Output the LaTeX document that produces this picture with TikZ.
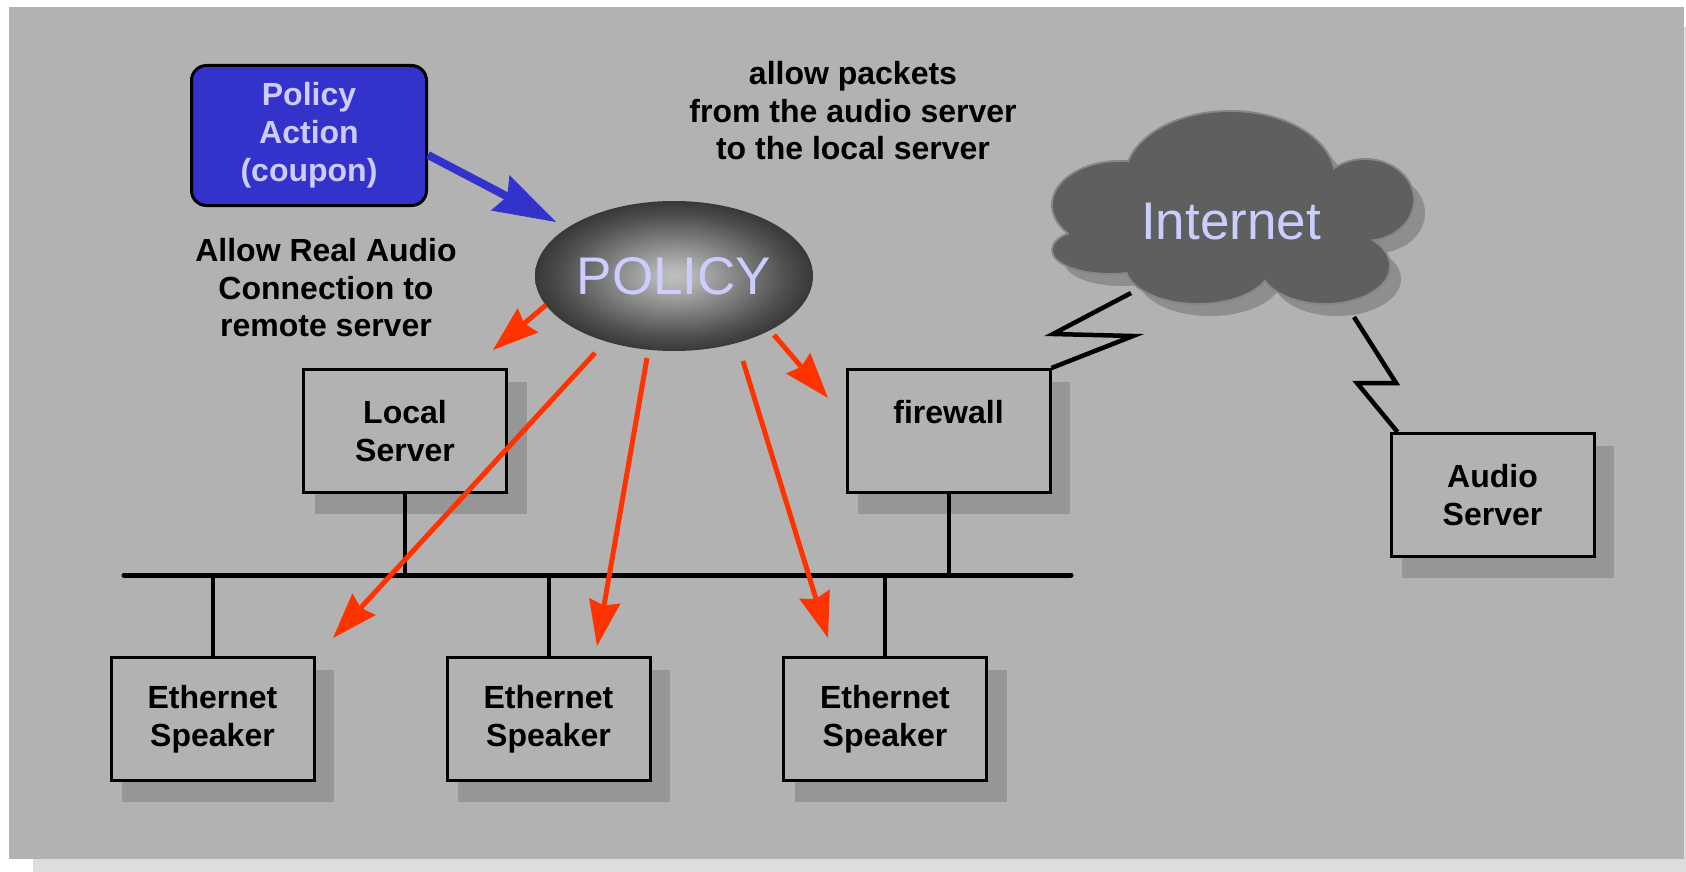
\documentclass[tikz,border=0pt]{standalone}
\usepackage{fontspec}
\setmainfont{Liberation Sans}
\usetikzlibrary{arrows.meta,shapes.geometric,calc}

\pgfdeclarelayer{paper}
\pgfdeclarelayer{shadowlayer}
\pgfsetlayers{paper,shadowlayer,main}

\definecolor{pagegray}{HTML}{B2B2B2}
\definecolor{pageshadow}{HTML}{DDDDDD}
\definecolor{boxshadow}{HTML}{969696}
\definecolor{actionblue}{HTML}{3333CC}
\definecolor{lavender}{HTML}{CCCCFF}
\definecolor{signalred}{HTML}{FF3300}
\definecolor{cloudfill}{HTML}{5F5F5F}
\definecolor{cloudedge}{HTML}{868686}
\definecolor{cloudshadow}{HTML}{8E8E8E}
\definecolor{glowA}{HTML}{BEBEBE}
\definecolor{glowB}{HTML}{B6B6B6}
\definecolor{glowC}{HTML}{808080}
\definecolor{glowD}{HTML}{505050}
\definecolor{glowE}{HTML}{383838}

% radial glow of the policy ellipse (the inner 50bp square covers the ellipse)
\pgfdeclareradialshading{policyglow}{\pgfpoint{0bp}{0bp}}{%
  color(0bp)=(glowA); color(3bp)=(glowB); color(12bp)=(glowC);
  color(20bp)=(glowD); color(25bp)=(glowE); color(50bp)=(glowE)}

\newcommand{\diaglabel}{\fontsize{32}{38}\selectfont\bfseries}
\newcommand{\diagnote}{\fontsize{32}{37.5}\selectfont\bfseries}
\newcommand{\diagbig}{\fontsize{53}{60}\selectfont}

% lobes of the Internet cloud: x/y/x radius/y radius
\newcommand{\lobelist}{1230/178/104/66, 1120/205/67/43, 1110/250/57/23,
  1198/265/72/38, 1325/266/64/37, 1365/200/48/40, 1230/225/110/50}

\begin{document}
\begin{tikzpicture}[x=1pt,y=-1pt,
  unitbox/.style={draw=black, line width=3pt, fill=pagegray,
    minimum width=203pt, minimum height=123pt, inner sep=0pt,
    align=center, font=\diaglabel},
  actionbox/.style={draw=black, line width=3pt, fill=actionblue,
    rounded corners=15pt, text=lavender, font=\diaglabel, align=center,
    minimum width=235pt, minimum height=140pt, inner sep=0pt},
  policyball/.style={ellipse, minimum width=278pt, minimum height=150pt,
    inner sep=0pt, shade, shading=policyglow, text=lavender, font=\diagbig},
  note/.style={align=center, inner sep=0pt, font=\diagnote},
  cloudtext/.style={inner sep=0pt, text=lavender, font=\diagbig},
  redarrow/.style={draw=signalred, line width=5pt,
    -{Stealth[length=46pt, width=32pt, inset=5pt, line width=0pt]}},
  bluearrow/.style={draw=actionblue, line width=8pt,
    -{Stealth[length=63pt, width=40pt, inset=8pt, line width=0pt]}},
  bus/.style={draw=black, line width=5pt, line cap=round},
  drop/.style={draw=black, line width=4pt},
  zig/.style={draw=black, line width=4.5pt, line join=miter}
]
\useasboundingbox (0,0) rectangle (1686,872);

% paper with its drop shadow
\begin{pgfonlayer}{paper}
  \fill[white] (0,0) rectangle (1686,872);
  \begin{scope}
    \clip (0,0) rectangle (1686,872);
    \fill[pageshadow] (33,27) rectangle (1710,880);
  \end{scope}
  \fill[pagegray] (9,7) rectangle (1684,859);
\end{pgfonlayer}

% policy and its source
\node[actionbox] (act) at (309,135.5) {Policy\\Action\\(coupon)};
\node[policyball] (pol) at (674,276) {POLICY};

% devices
\node[unitbox] (ls)  at (405,431)    {Local\\Server};
\node[unitbox] (fw)  at (948.5,431)  {firewall\\\phantom{Server}};
\node[unitbox] (as)  at (1492.5,495) {Audio\\Server};
\node[unitbox] (sp1) at (212.5,719)  {Ethernet\\Speaker};
\node[unitbox] (sp2) at (548.5,719)  {Ethernet\\Speaker};
\node[unitbox] (sp3) at (885,719)    {Ethernet\\Speaker};

% rule annotations
\node[note] (ruleA) at (326,288) {Allow Real Audio\\Connection to\\remote server};
\node[note] (ruleB) at (853,111) {allow packets\\from the audio server\\to the local server};

% box shadows
\begin{pgfonlayer}{shadowlayer}
  \foreach \n in {ls,fw,as,sp1,sp2,sp3}
    \fill[boxshadow] ([shift={(12.5pt,-13.5pt)}]\n.north west)
      rectangle ([shift={(18.5pt,-19.5pt)}]\n.south east);
\end{pgfonlayer}

% Internet cloud: shadow, rim, body
\fill[cloudshadow] \foreach \cx/\cy/\rx/\ry in \lobelist
  {([shift={(12pt,-13pt)}]\cx,\cy) ellipse [x radius=\rx pt, y radius=\ry pt]};
\draw[cloudedge, line width=4pt] \foreach \cx/\cy/\rx/\ry in \lobelist
  {(\cx,\cy) ellipse [x radius=\rx pt, y radius=\ry pt]};
\fill[cloudfill] \foreach \cx/\cy/\rx/\ry in \lobelist
  {(\cx,\cy) ellipse [x radius=\rx pt, y radius=\ry pt]};
\node[cloudtext, anchor=base] (inet) at (1231,239) {Internet};

% Ethernet segment
\coordinate (busW) at (124,575);
\coordinate (busE) at (1071,575);
\draw[bus] (busW) -- (busE);
\draw[drop] (ls.south) -- ([yshift=-3pt]ls.south |- busW);
\draw[drop] (fw.south) -- (fw.south |- busW);
\foreach \n in {sp1,sp2,sp3}
  \draw[drop] (\n.north) -- (\n.north |- busW);

% serial links to the Internet
\coordinate (inetSW) at (1131,293);
\coordinate (inetSE) at (1354,317);
\draw[zig] (fw.north east) -- (1133,336) -- (1053,334) -- (inetSW);
\draw[zig] (inetSE) -- (1396,383) -- (1357,383) -- ([xshift=8pt]as.north west);

% policy action feeding the policy
\coordinate (polIn) at (556,222);
\draw[bluearrow] ([yshift=-19.5pt]act.east) -- (polIn);

% policy pushed to the devices
\coordinate (out1) at (546,305);  \coordinate (tipLS)  at (493,350);
\coordinate (out2) at (595,353);  \coordinate (tipSP1) at (333,638);
\coordinate (out3) at (647,358);  \coordinate (tipSP2) at (597,646);
\coordinate (out4) at (743,361);  \coordinate (tipSP3) at (828,638);
\coordinate (out5) at (774,335);  \coordinate (tipFW)  at (828,398);
\draw[redarrow] (out1) -- (tipLS);
\draw[redarrow] (out2) -- (tipSP1);
\draw[redarrow] (out3) -- (tipSP2);
\draw[redarrow] (out4) -- (tipSP3);
\draw[redarrow] (out5) -- (tipFW);
\end{tikzpicture}
\end{document}
